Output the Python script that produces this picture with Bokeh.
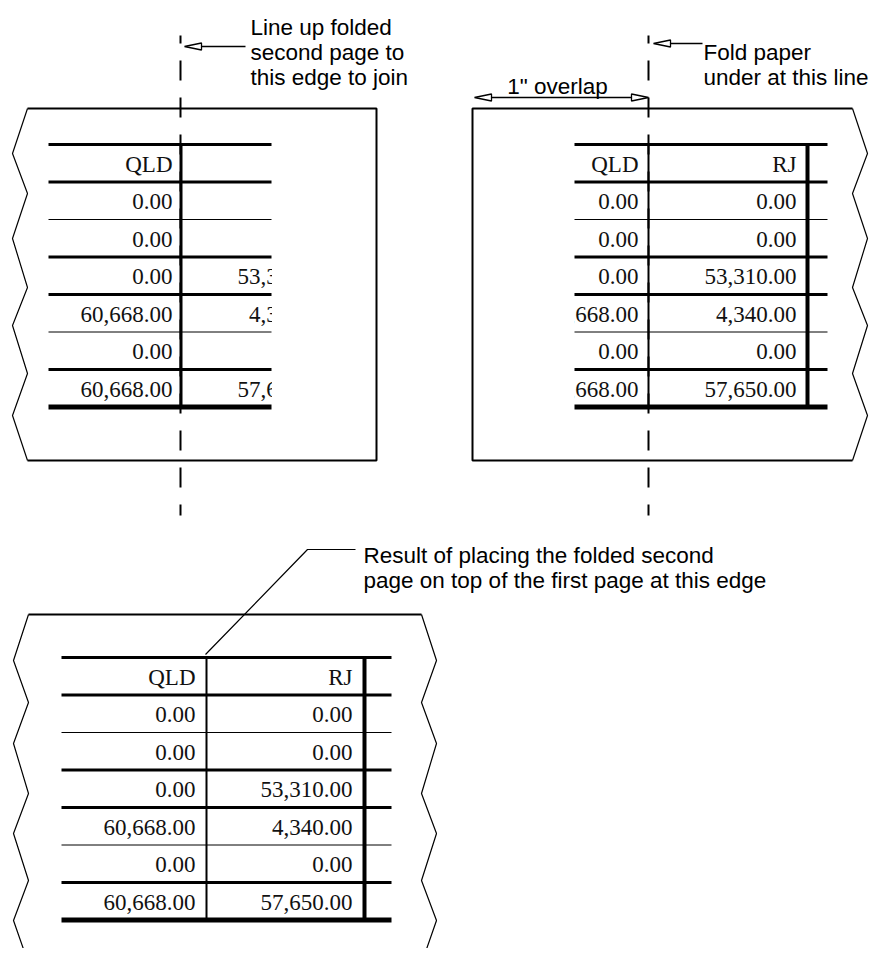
from bokeh.plotting import figure
from bokeh.models import Range1d, ColumnDataSource
from bokeh.core.properties import value
from bokeh.embed import file_html
from bokeh.resources import INLINE

# ---------------- data ----------------
col_qld = ["QLD", "0.00", "0.00", "0.00", "60,668.00", "0.00", "60,668.00"]
col_rj = ["RJ", "0.00", "0.00", "53,310.00", "4,340.00", "0.00", "57,650.00"]
rule_widths = [3, 3, 1, 3, 3, 1, 3, 5]   # horizontal rules, top to bottom

note_line_up = ["Line up folded", "second page to", "this edge to join"]
note_fold = ["Fold paper", "under at this line"]
note_overlap = ['1" overlap']
note_result = ["Result of placing the folded second",
               "page on top of the first page at this edge"]

# ---------------- figure ----------------
W, H = 869, 948
p = figure(width=W, height=H, x_range=Range1d(0, W), y_range=Range1d(H, 0),
           output_backend="svg", toolbar_location=None, min_border=0,
           x_axis_location=None, y_axis_location=None)
p.grid.visible = False
p.outline_line_color = None

SANS = value("Liberation Sans")
SERIF = value("Liberation Serif")
BLACK = "#000000"

# ---------------- tables ----------------
ROW_H = 37.5
columns = [col_qld, col_rj]
tables = [
    dict(top=144, x0=48, x1=271, seps=[(180.5, 3)], right=[172, 329], mask=(271.5, 374)),
    dict(top=144, x0=574, x1=827, seps=[(648, 2), (807, 4)], right=[638, 796], mask=(473.5, 573.5)),
    dict(top=657, x0=61, x1=391, seps=[(206, 2), (364, 4)], right=[195, 352], mask=None),
]

for t in tables:
    xs, ys, txt = [], [], []
    for j, col in enumerate(columns):
        for i, s in enumerate(col):
            xs.append(t["right"][j])
            ys.append(t["top"] + (i + 0.5) * ROW_H + 1)
            txt.append(s)
    p.text(x="x", y="y", text="t", source=ColumnDataSource(dict(x=xs, y=ys, t=txt)),
           text_font=SERIF, text_font_size=value("23px"), text_align="right",
           text_baseline="middle", text_color="#111111")
    if t["mask"] is not None:
        p.quad(left=t["mask"][0], right=t["mask"][1], top=t["top"] - 4,
               bottom=t["top"] + 7 * ROW_H + 6, fill_color="white", line_color=None)
    nrules = len(rule_widths)
    p.segment(x0=[t["x0"]] * nrules, x1=[t["x1"]] * nrules,
              y0=[t["top"] + i * ROW_H for i in range(nrules)],
              y1=[t["top"] + i * ROW_H for i in range(nrules)],
              line_width=rule_widths, line_color=BLACK)
    for sx, sw in t["seps"]:
        p.segment(x0=[sx], x1=[sx], y0=[t["top"]], y1=[t["top"] + 7 * ROW_H],
                  line_width=sw, line_color=BLACK)

# ---------------- pages ----------------
top_zig_y = [108, 153, 193, 238, 287, 325, 373, 415, 460]
bot_zig_y = [614, 660, 702, 743, 793, 833, 880, 920, 963]

def zig(inner, outer, ys):
    return [inner if k % 2 == 0 else outer for k in range(len(ys))], ys

# top-left page
p.line([27, 376, 376, 27], [108, 108, 460, 460], line_width=2, line_color=BLACK)
zx, zy = zig(27, 12, top_zig_y)
p.line(zx, zy, line_width=1.2, line_color=BLACK)
# top-right page
p.line([852, 472, 472, 852], [108, 108, 460, 460], line_width=2, line_color=BLACK)
zx, zy = zig(852, 867, top_zig_y)
p.line(zx, zy, line_width=1.2, line_color=BLACK)
# bottom page
p.line([28, 421], [614, 614], line_width=2, line_color=BLACK)
zx, zy = zig(28, 13, bot_zig_y)
p.line(zx, zy, line_width=1.2, line_color=BLACK)
zx, zy = zig(421, 436, bot_zig_y)
p.line(zx, zy, line_width=1.2, line_color=BLACK)

# fold / join lines
for fx in (180, 648):
    p.line([fx, fx], [35, 515], line_width=2, line_color=BLACK,
           line_dash="20 17", line_dash_offset=12)

# ---------------- arrows ----------------
HEAD_L, HEAD_W = 17, 3.5

def head(tx, ty, d):
    # d = -1 : points left ; d = +1 : points right
    return [tx, tx - d * HEAD_L, tx - d * HEAD_L], [ty, ty - HEAD_W, ty + HEAD_W]

heads_x, heads_y = [], []
shafts = [((184 + HEAD_L, 46), (245, 46)),
          ((653 + HEAD_L, 43), (702, 43)),
          ((474 + HEAD_L, 97), (648 - HEAD_L, 97))]
for (a, b) in shafts:
    p.line([a[0], b[0]], [a[1], b[1]], line_width=1.5, line_color=BLACK)
for hx, hy, d in [(184, 46, -1), (653, 43, -1), (474, 97, -1), (648, 97, 1)]:
    xs, ys = head(hx, hy, d)
    heads_x.append(xs)
    heads_y.append(ys)
p.patches(heads_x, heads_y, fill_color="white", line_color=BLACK, line_width=1.3)

# leader to joined edge
p.line([205, 307, 355], [654, 549, 549], line_width=1.2, line_color=BLACK)

# ---------------- notes ----------------
def note(lines, x, y0, align="left"):
    ys = [y0 + 25 * k for k in range(len(lines))]
    p.text(x=[x] * len(lines), y=ys, text=lines, text_font=SANS,
           text_font_size=value("22.5px"), text_align=align,
           text_baseline="alphabetic", text_color=BLACK)

note(note_line_up, 250, 27)
note(note_fold, 703, 52)
note(note_overlap, 557, 86, "center")
note(note_result, 363, 555)

open("out.html", "w").write(file_html(p, INLINE))
